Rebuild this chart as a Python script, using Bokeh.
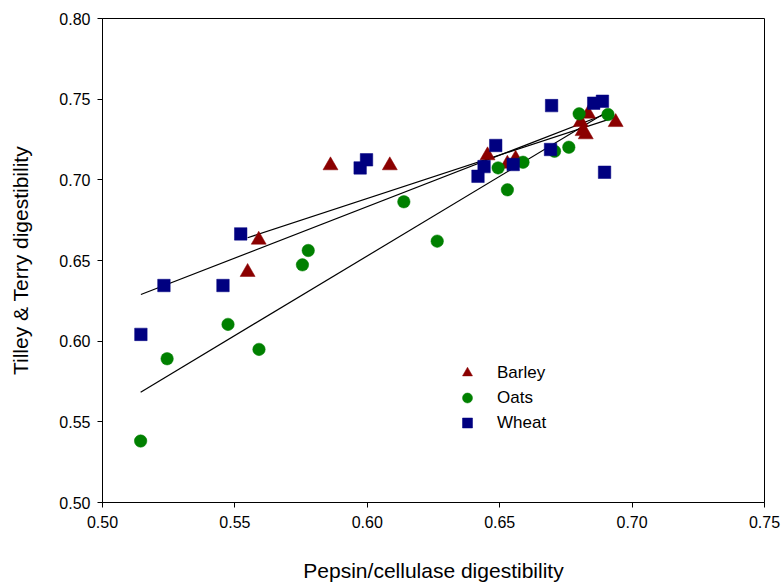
from bokeh.plotting import figure
from bokeh.models import Legend, LegendItem, Range1d, FixedTicker, CustomJSTickFormatter
from bokeh.embed import file_html
from bokeh.resources import INLINE

barley_x = [0.5548, 0.5590, 0.5861, 0.6085, 0.6454, 0.6529, 0.6560, 0.6806, 0.6813, 0.6825, 0.6834, 0.6938]
barley_y = [0.6428, 0.6628, 0.7089, 0.7089, 0.7151, 0.7099, 0.7130, 0.7357, 0.7301, 0.7281, 0.7409, 0.7357]

oats_x = [0.5144, 0.5244, 0.5474, 0.5591, 0.5755, 0.5777, 0.6138, 0.6264, 0.6494, 0.6529, 0.6588,
          0.6707, 0.6761, 0.6800, 0.6909]
oats_y = [0.5381, 0.5891, 0.6104, 0.5949, 0.6473, 0.6562, 0.6864, 0.6620, 0.7074, 0.6938, 0.7109,
          0.7177, 0.7202, 0.7409, 0.7405]

wheat_x = [0.5145, 0.5232, 0.5455, 0.5522, 0.5973, 0.5997, 0.6418, 0.6441, 0.6485, 0.6551, 0.6692,
           0.6696, 0.6855, 0.6888, 0.6896]
wheat_y = [0.6042, 0.6345, 0.6345, 0.6665, 0.7074, 0.7124, 0.7022, 0.7082, 0.7213, 0.7095, 0.7188,
           0.7460, 0.7475, 0.7487, 0.7047]

# regression lines (endpoints)
barley_fit_x = [0.5548, 0.6938]
barley_fit_y = [0.6641, 0.7389]
oats_fit_x = [0.5144, 0.6909]
oats_fit_y = [0.5684, 0.7425]
wheat_fit_x = [0.5145, 0.6896]
wheat_fit_y = [0.6289, 0.7405]

x_ticks = [0.50, 0.55, 0.60, 0.65, 0.70, 0.75]
y_ticks = [0.50, 0.55, 0.60, 0.65, 0.70, 0.75, 0.80]

FONT = "Liberation Sans"

p = figure(width=783, height=587, output_backend="svg", toolbar_location=None,
           x_range=Range1d(0.50, 0.75), y_range=Range1d(0.50, 0.80),
           min_border_left=102, min_border_right=19, min_border_top=18, min_border_bottom=85)
p.xgrid.visible = False
p.ygrid.visible = False
p.outline_line_color = "black"
p.outline_line_width = 1
p.background_fill_color = "white"
p.border_fill_color = "white"

for ax, ticks in ((p.xaxis[0], x_ticks), (p.yaxis[0], y_ticks)):
    ax.ticker = FixedTicker(ticks=ticks)
    ax.minor_tick_line_color = None
    ax.major_tick_in = 0
    ax.major_tick_out = 5
    ax.axis_line_color = "black"
    ax.major_tick_line_color = "black"
    ax.major_label_text_font = FONT
    ax.major_label_text_font_size = "16px"
    ax.major_label_text_color = "black"
    ax.axis_label_text_font = FONT
    ax.axis_label_text_font_size = "21px"
    ax.axis_label_text_font_style = "normal"
    ax.axis_label_text_color = "black"
    ax.formatter = CustomJSTickFormatter(code="return tick.toFixed(2);")
p.xaxis[0].axis_label = "Pepsin/cellulase digestibility"
p.yaxis[0].axis_label = "Tilley & Terry digestibility"
p.xaxis[0].major_label_standoff = 8
p.xaxis[0].axis_label_standoff = 28
p.yaxis[0].major_label_standoff = 7
p.yaxis[0].axis_label_standoff = 24

p.line(barley_fit_x, barley_fit_y, line_color="black", line_width=1.2)
p.line(oats_fit_x, oats_fit_y, line_color="black", line_width=1.2)
p.line(wheat_fit_x, wheat_fit_y, line_color="black", line_width=1.2)

r_b = p.scatter(barley_x, barley_y, marker="triangle", size=15, fill_color="#8b0000",
                line_color="#8b0000", line_width=0.5)
r_o = p.scatter(oats_x, oats_y, marker="circle", size=12.5, fill_color="#008000",
                line_color="#008000", line_width=0.5)
r_w = p.scatter(wheat_x, wheat_y, marker="square", size=12.5, fill_color="#000080",
                line_color="#000080", line_width=0.5)

legend = Legend(items=[LegendItem(label="Barley", renderers=[r_b]),
                       LegendItem(label="Oats", renderers=[r_o]),
                       LegendItem(label="Wheat", renderers=[r_w])],
                location=(349, 67))
legend.border_line_alpha = 0
legend.background_fill_alpha = 0
legend.label_text_font = FONT
legend.label_text_font_size = "17px"
legend.label_text_color = "black"
legend.glyph_width = 32
legend.glyph_height = 25
legend.label_standoff = 14
legend.spacing = 0
legend.padding = 0
legend.margin = 0
p.add_layout(legend, "center")

open("out.html", "w").write(file_html(p, INLINE))
